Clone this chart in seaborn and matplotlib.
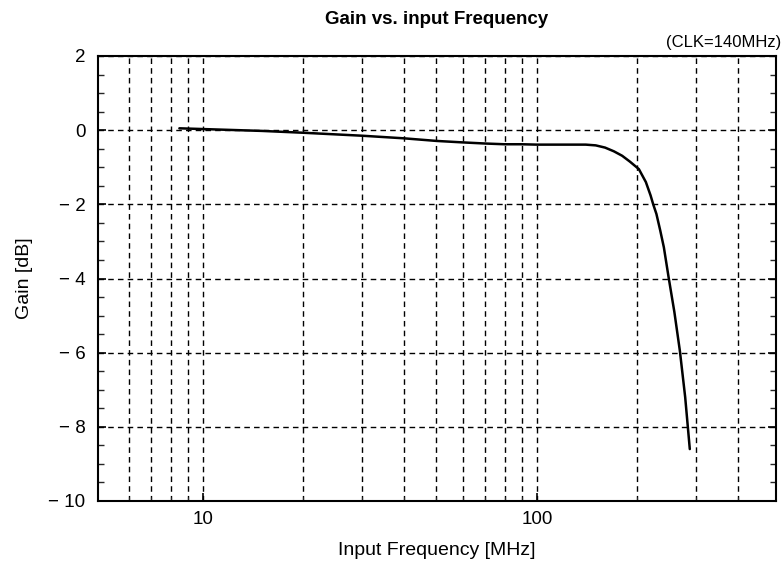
import numpy as np
import pandas as pd
import matplotlib
matplotlib.use("Agg")
import matplotlib.pyplot as plt
import seaborn as sns
from matplotlib.ticker import FixedLocator, FixedFormatter, NullFormatter, MultipleLocator

freq_mhz = [8.5, 10, 15, 20, 30, 40, 50, 60, 70, 80, 90, 100, 120, 140, 150, 160, 170, 180,
            190, 202, 212, 219, 223, 228, 234, 240, 248, 258, 268, 278, 287]
gain_db = [0.05, 0.03, -0.02, -0.07, -0.15, -0.22, -0.29, -0.33, -0.36, -0.38, -0.38, -0.39,
           -0.39, -0.39, -0.41, -0.47, -0.57, -0.69, -0.85, -1.05, -1.4, -1.76, -2.0, -2.26,
           -2.7, -3.16, -3.97, -4.9, -5.95, -7.2, -8.6]

title = "Gain vs. input Frequency"
note = "(CLK=140MHz)"
xlabel = "Input Frequency [MHz]"
ylabel = "Gain [dB]"
x_major = [10, 100]
x_major_labels = ["10", "100"]
x_grid_minor = [6, 7, 8, 9, 20, 30, 40, 50, 60, 70, 80, 90, 200, 300, 400]
y_ticks = [-10, -8, -6, -4, -2, 0, 2]
y_tick_labels = ["\u2212 10", "\u2212 8", "\u2212 6", "\u2212 4", "\u2212 2", "0", "2"]

sns.set_theme(style="white")
plt.rcParams['font.family'] = ['Liberation Sans', 'DejaVu Sans']

df = pd.DataFrame({"freq": freq_mhz, "gain": gain_db})

fig = plt.figure(figsize=(7.84, 5.62), dpi=100)
ax = fig.add_axes([98/784, 1 - 501/562, (776-98)/784, (501-56)/562])

sns.lineplot(data=df, x="freq", y="gain", ax=ax, color="black", linewidth=1.8, zorder=5)

ax.set_xscale("log")
ax.set_xlim(4.85, 520)
ax.set_ylim(-10, 2)

ax.xaxis.set_major_locator(FixedLocator(x_major))
ax.xaxis.set_major_formatter(FixedFormatter(x_major_labels))
ax.xaxis.set_minor_locator(FixedLocator(x_grid_minor))
ax.xaxis.set_minor_formatter(NullFormatter())
ax.yaxis.set_major_locator(FixedLocator(y_ticks))
ax.yaxis.set_major_formatter(FixedFormatter(y_tick_labels))
ax.yaxis.set_minor_locator(MultipleLocator(0.5))

ax.grid(True, which="both", axis="x", color="black", linestyle=(0, (4, 3)), linewidth=1.0)
ax.grid(True, which="major", axis="y", color="black", linestyle=(0, (4, 3)), linewidth=1.0)

ax.tick_params(axis="both", which="major", direction="in", length=6, width=1.2,
               labelsize=13.5, colors="black", top=False, right=True, left=True, bottom=True)
ax.tick_params(axis="y", which="major", pad=9)
ax.tick_params(axis="y", which="minor", direction="in", length=4, width=1.0,
               left=True, right=True)
ax.tick_params(axis="x", which="minor", direction="in", length=3, width=0.8, bottom=True)
ax.tick_params(axis="x", which="major", pad=7)

for s in ax.spines.values():
    s.set_color("black")
    s.set_linewidth(1.5)
    s.set_visible(True)

ax.set_xlabel(xlabel, fontsize=14, color="black", labelpad=10)
ax.set_ylabel(ylabel, fontsize=14, color="black", labelpad=11)
ax.set_title(title, fontsize=13.5, fontweight="bold", color="black", pad=23)
fig.text(781/784, 1 - 43/562, note, ha="right", va="center", fontsize=12, color="black")

fig.savefig("out.png", dpi=100, facecolor="white")
